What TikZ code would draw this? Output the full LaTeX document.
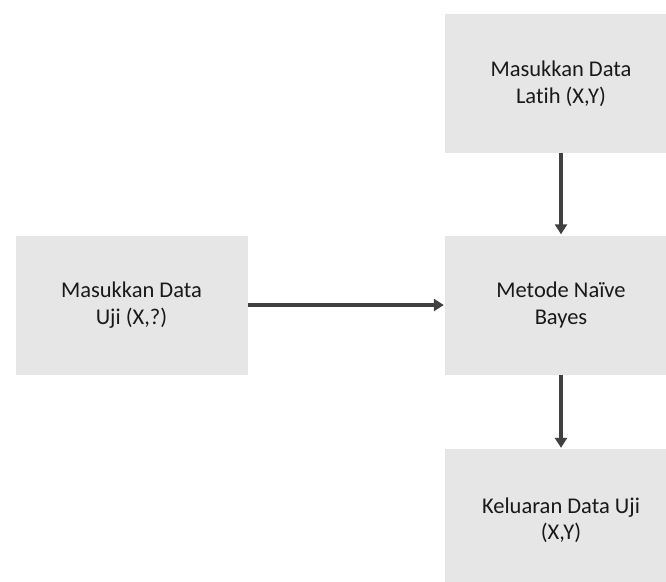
\documentclass[tikz,border=0pt]{standalone}
\usepackage{fontspec}
\setmainfont{Carlito}[Ligatures=NoCommon]
\usetikzlibrary{arrows,arrows.meta}
\definecolor{boxgray}{HTML}{E7E6E6}
\definecolor{arrowgray}{HTML}{404040}

\begin{document}
\begin{tikzpicture}[
x=1pt,y=-1pt,
box/.style={fill=boxgray,inner sep=0pt,minimum width=232pt,minimum height=139pt,align=center,font=\fontsize{22.5}{26.5}\selectfont,text=black!90},
arrow/.style={-{Triangle[length=10pt,width=12pt]},line width=3.3pt,draw=arrowgray,shorten >=1pt} ]

\useasboundingbox (0,0) rectangle (666,581);

\node[box](latih) at (561,83.5) {Masukkan Data\\Latih (X,Y)};

\node[box](uji) at (131.5,305) {Masukkan Data\\Uji (X,?)};

\node[box](naive) at (561,305) {Metode Naïve\\Bayes};

\node[box,minimum height=142pt](keluaran) at (561,520) {Keluaran Data Uji\\(X,Y)};

\draw[arrow] (latih) -- (naive);

\draw[arrow] (uji) -- (naive);

\draw[arrow] (naive) -- (keluaran);

\end{tikzpicture}
\end{document}
